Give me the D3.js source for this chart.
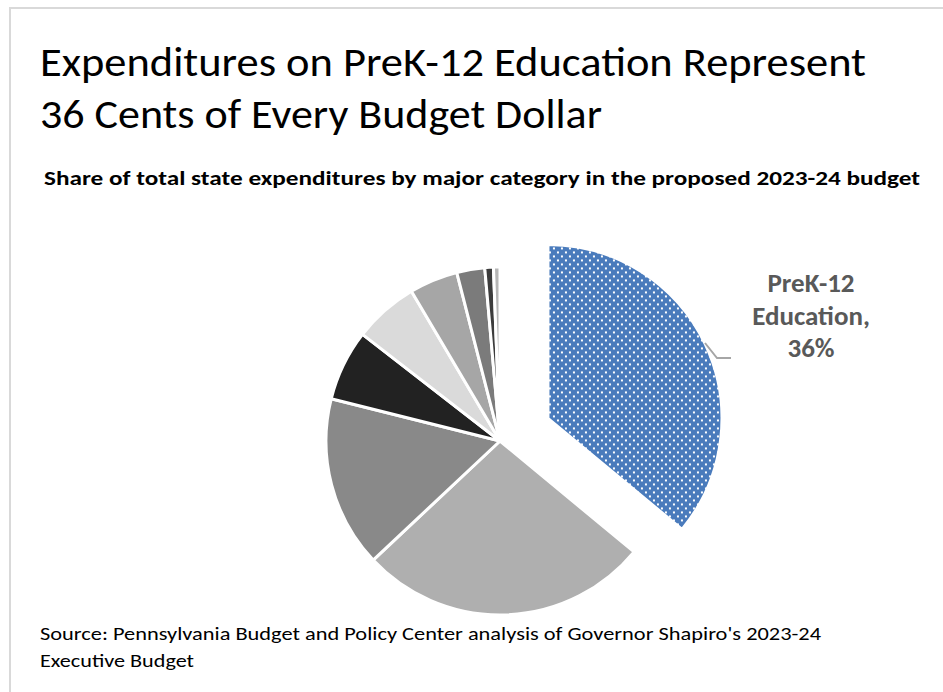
<!DOCTYPE html>
<html>
<head>
<meta charset="utf-8">
<script src="https://cdn.jsdelivr.net/npm/d3@7"></script>
<style>
  html, body { margin: 0; padding: 0; background: #fff; }
  svg { display: block; }
</style>
</head>
<body>
<svg id="chart" width="943" height="692"></svg>
<script>
// Shares of total state expenditures, 2023-24 proposed budget (percent)
const categories = [
  "PreK-12 Education",
  "Health and Human Services",
  "Medical Assistance",
  "Corrections",
  "Higher Education",
  "Transportation",
  "Debt Service",
  "Public Protection",
  "General Government"
];
const shares = [36, 27.0, 15.9, 6.6, 6.0, 4.5, 2.6, 0.8, 0.6];
const sliceColors = ["url(#dots)", "#afafaf", "#898989", "#222222", "#dadada", "#a6a6a6", "#7b7b7b", "#3c3c3c", "#b6b6b6"];

const titleLines = ["Expenditures on PreK-12 Education Represent", "36 Cents of Every Budget Dollar"];
const subtitle = "Share of total state expenditures by major category in the proposed 2023-24 budget";
const sourceLines = ["Source: Pennsylvania Budget and Policy Center analysis of Governor Shapiro's 2023-24", "Executive Budget"];

const svg = d3.select("#chart");
const font = "Calibri, Carlito, Lato, 'Open Sans', sans-serif";

// Outer frame
svg.append("rect")
  .attr("x", 10).attr("y", 8)
  .attr("width", 960).attr("height", 720)
  .attr("fill", "none").attr("stroke", "#d9d9d9").attr("stroke-width", 2);

// Dotted fill for the highlighted slice
const defs = svg.append("defs");
const pat = defs.append("pattern")
  .attr("id", "dots").attr("patternUnits", "userSpaceOnUse")
  .attr("width", 8).attr("height", 8);
pat.append("rect").attr("width", 8).attr("height", 8).attr("fill", "#4a7bbc");
pat.append("rect").attr("x", 1).attr("y", 1).attr("width", 2).attr("height", 2).attr("fill", "#ffffff");
pat.append("rect").attr("x", 5).attr("y", 5).attr("width", 2).attr("height", 2).attr("fill", "#ffffff");

// Title
const titleWidths = [826, 562];
svg.selectAll("text.title").data(titleLines).join("text")
  .attr("class", "title")
  .attr("x", 40).attr("y", (d, i) => 76 + i * 52)
  .attr("font-family", font).attr("font-size", 42).attr("fill", "#000")
  .attr("textLength", (d, i) => titleWidths[i])
  .attr("lengthAdjust", "spacingAndGlyphs")
  .text(d => d);

// Subtitle
svg.append("text")
  .attr("x", 44).attr("y", 185)
  .attr("font-family", font).attr("font-size", 20).attr("font-weight", "bold").attr("fill", "#000")
  .attr("textLength", 876).attr("lengthAdjust", "spacingAndGlyphs")
  .text(subtitle);

// Source note
const sourceWidths = [781, 154];
svg.selectAll("text.source").data(sourceLines).join("text")
  .attr("class", "source")
  .attr("x", 40).attr("y", (d, i) => 640 + i * 27)
  .attr("font-family", font).attr("font-size", 19).attr("fill", "#000")
  .attr("textLength", (d, i) => sourceWidths[i])
  .attr("lengthAdjust", "spacingAndGlyphs")
  .text(d => d);

// Pie
const cx = 500, cy = 441, radius = 174, explode = 53;
const pie = d3.pie().sort(null).value(d => d)
  .startAngle(0).endAngle(2 * Math.PI);
const arcs = pie(shares);
const arc = d3.arc().innerRadius(0).outerRadius(radius);

const g = svg.append("g").attr("transform", `translate(${cx},${cy})`);
g.selectAll("path").data(arcs).join("path")
  .attr("d", arc)
  .attr("transform", (d, i) => {
    if (i !== 0) return null;
    const mid = (d.startAngle + d.endAngle) / 2;
    return `translate(${Math.sin(mid) * explode},${-Math.cos(mid) * explode})`;
  })
  .attr("fill", (d, i) => sliceColors[i])
  .attr("stroke", "#ffffff").attr("stroke-width", 3)
  .attr("stroke-linejoin", "round");

// Leader line and data label for the highlighted slice
svg.append("polyline")
  .attr("points", "705,343 717,358 731,358")
  .attr("fill", "none").attr("stroke", "#a6a6a6").attr("stroke-width", 2);

const labelLines = ["PreK-12", "Education,", d3.format(".0f")(shares[0]) + "%"];
svg.selectAll("text.label").data(labelLines).join("text")
  .attr("class", "label")
  .attr("x", 811).attr("y", (d, i) => 292 + i * 32.5)
  .attr("text-anchor", "middle")
  .attr("font-family", font).attr("font-size", 27).attr("font-weight", "bold").attr("fill", "#595959")
  .text(d => d);
</script>
</body>
</html>
